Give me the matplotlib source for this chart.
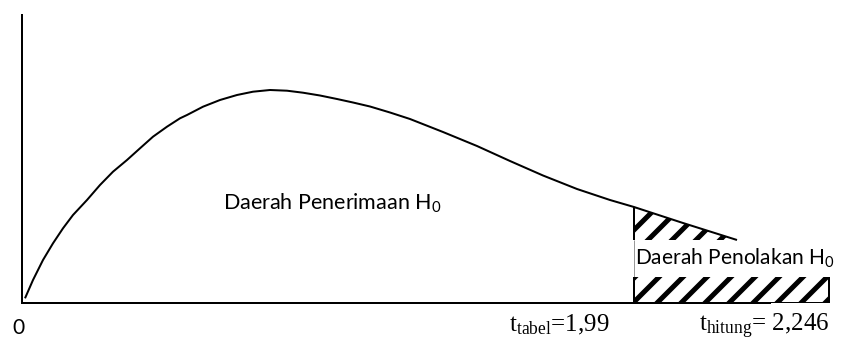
import numpy as np
import matplotlib
matplotlib.use('Agg')
import matplotlib.pyplot as plt
from matplotlib.patches import Rectangle

# curve (x, y in picture units from the origin)
curve_x = [3, 11, 21, 31, 41, 51, 65, 78, 91, 105, 118, 131, 145, 158, 165, 181,
           198, 215, 231, 248, 265, 281, 298, 315, 331, 348, 368, 388, 421, 455, 488,
           521, 555, 588, 612, 661, 715]
curve_y = [4.7, 23, 43, 59.7, 74.7, 88, 103, 118, 131.3, 143, 154.7, 166.3, 176.3, 184.7, 188, 196.3,
           203, 208, 211.3, 213, 212.3, 210.3, 207.5, 204, 200.5, 196.5, 190.5, 184, 171, 157, 142,
           127.5, 114, 103, 96, 80, 63]

t_tabel = 612      # boundary of the rejection region
reject_end = 807   # right end of the hatched region
box_low = 26
box_high = 63

label_accept = r'Daerah Penerimaan H$\mathregular{_0}$'
label_reject = r'Daerah Penolakan H$\mathregular{_0}$'
label_tabel = r't$\mathregular{_{tabel}}$=1,99'
label_hitung = r't$\mathregular{_{hitung}}$= 2,246'

plt.rcParams['hatch.linewidth'] = 5.0
plt.rcParams['hatch.color'] = 'black'

dpi = 72
fig = plt.figure(figsize=(844 / dpi, 341 / dpi), dpi=dpi)
ax = fig.add_axes([22 / 844, 38 / 341, 811 / 844, 288 / 341])
ax.set_xlim(0, 811)
ax.set_ylim(0, 288)
ax.patch.set_alpha(0)

for s in ['top', 'right']:
    ax.spines[s].set_visible(False)
ax.spines['left'].set_linewidth(2)
ax.spines['bottom'].set_linewidth(2)
ax.spines['bottom'].set_bounds(0, 748)
ax.set_xticks([])
ax.set_yticks([])

cx = np.array(curve_x)
cy = np.array(curve_y)
ax.plot(cx, cy, color='black', lw=2, zorder=5, solid_capstyle='butt',
        solid_joinstyle='round')

# hatched rejection region
m = cx >= t_tabel
ax.fill_between(cx[m], box_high, cy[m], facecolor='white', edgecolor='black',
                hatch='/', lw=0, zorder=2)
ax.add_patch(Rectangle((t_tabel, 0), reject_end - t_tabel, box_high,
                       facecolor='white', edgecolor='black', hatch='/', lw=0, zorder=2))
ax.add_patch(Rectangle((t_tabel, box_low), reject_end - t_tabel + 4, box_high - box_low,
                       facecolor='white', edgecolor='none', lw=0, zorder=3))
ax.vlines(t_tabel, box_high, cy[m][0], color='black', lw=2, zorder=4)
ax.vlines(t_tabel, box_low, box_high, color='#999999', lw=1, zorder=4)
ax.vlines(t_tabel, 0, box_low, color='black', lw=2, zorder=4)
ax.vlines(reject_end, 0, box_low, color='black', lw=2, zorder=4)
ax.hlines(0, t_tabel, reject_end, color='black', lw=2, zorder=4)

sans = ['Lato', 'DejaVu Sans']
ax.text(201, 100, label_accept, fontsize=21.5, family=sans, ha='left', va='center', zorder=6)
ax.text(t_tabel + 1, 45, label_reject, fontsize=21, family=sans, ha='left', va='center', zorder=6)

fig.text(18 / 844, 1 - 328 / 341, '0', fontsize=21, family=sans, ha='center', va='center')
serif = ['Liberation Serif', 'DejaVu Serif']
fig.text(509 / 844, 1 - 331 / 341, label_tabel, fontsize=25, family=serif, ha='left', va='baseline')
fig.text(699 / 844, 1 - 331 / 341, label_hitung, fontsize=25, family=serif, ha='left', va='baseline')

fig.savefig('out.png', dpi=dpi, facecolor='white')
